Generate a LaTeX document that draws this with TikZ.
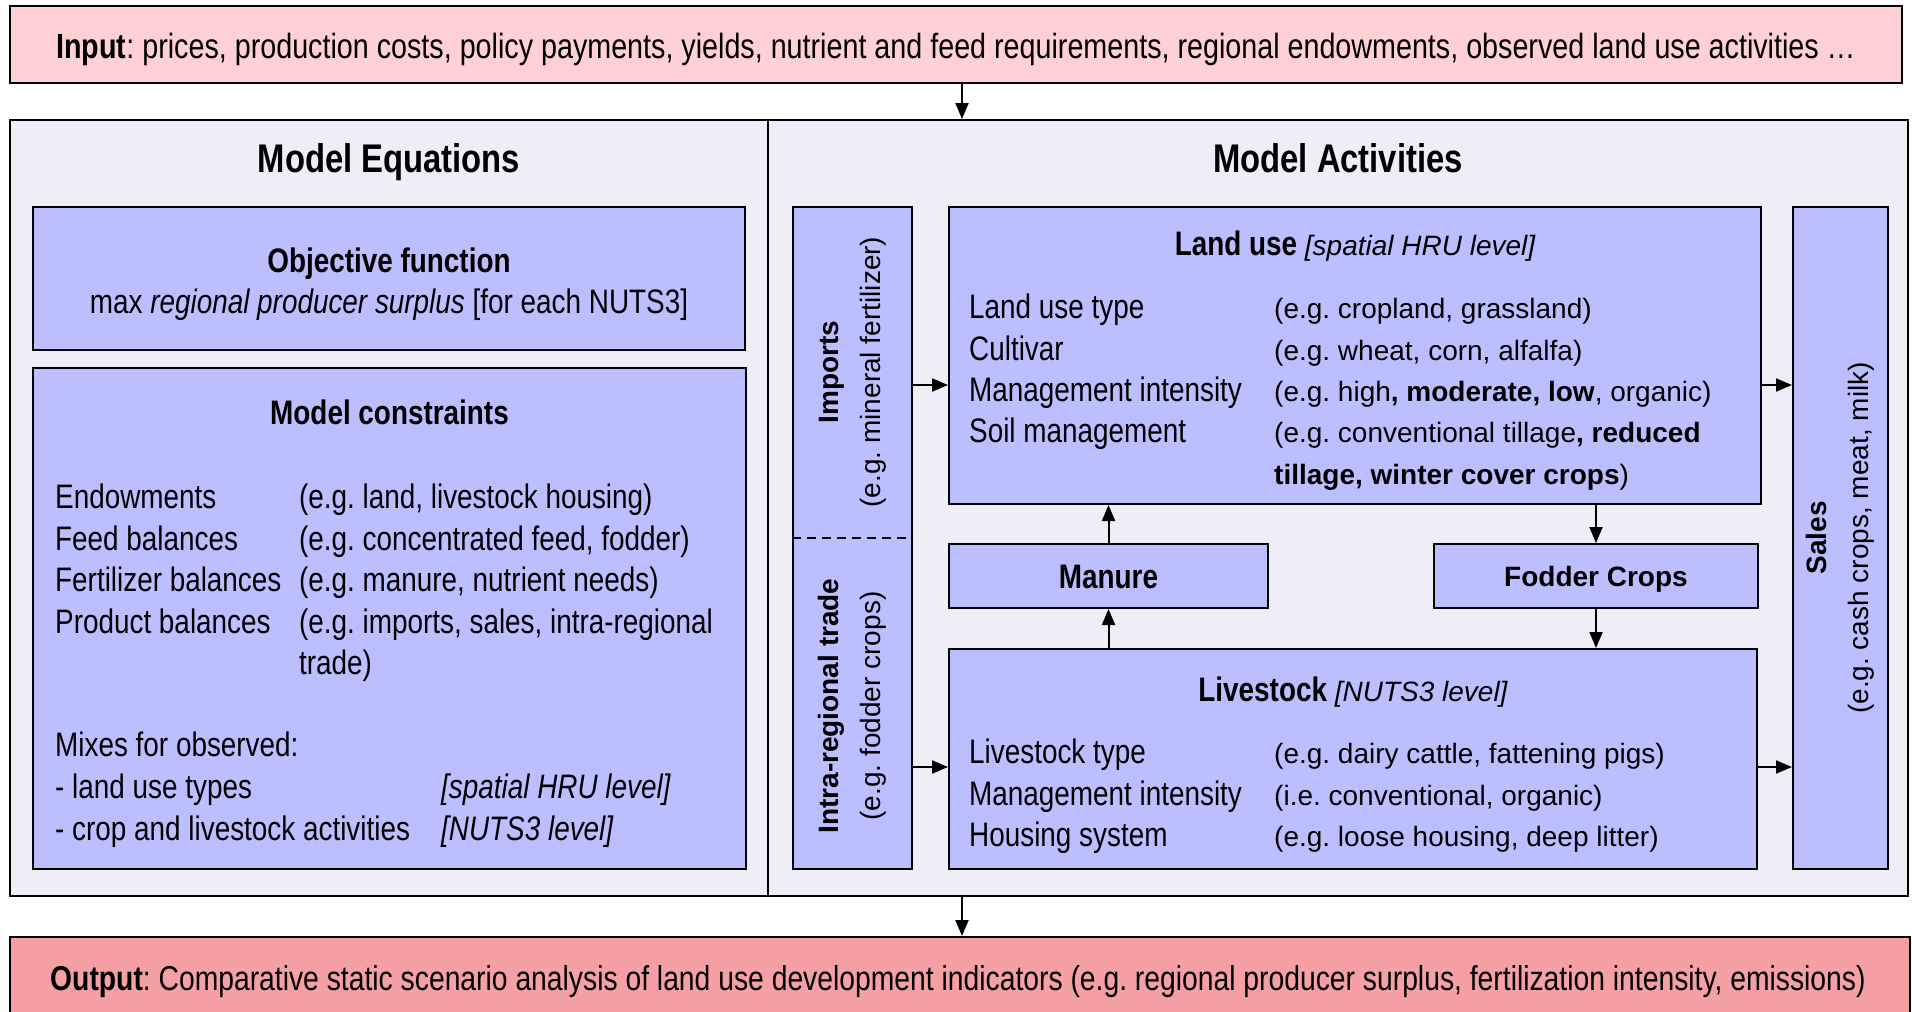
\documentclass[tikz,border=0pt]{standalone}
\usepackage{fontspec}
\setmainfont{Liberation Sans}
\newfontfamily\nf[FakeStretch=0.82]{Liberation Sans}
\usetikzlibrary{arrows.meta}
\frenchspacing
\definecolor{boxblue}{RGB}{187,191,255}
\definecolor{inpink}{RGB}{255,208,212}
\definecolor{outpink}{RGB}{245,160,165}
\definecolor{panelbg}{RGB}{238,238,246}
\tikzset{
 bx/.style={draw=black, line width=2pt, fill=boxblue, inner sep=0pt},
 pane/.style={draw=black, line width=2pt, fill=panelbg, inner sep=0pt},
 arr/.style={-{Triangle[length=16pt,width=13pt]}, line width=2pt},
 nt/.style={font=\nf\fontsize{34}{41}\selectfont, inner sep=0pt, anchor=base west},
 rt/.style={font=\fontsize{28}{41}\selectfont, inner sep=0pt, anchor=base west},
 rot/.style={font=\fontsize{28}{42}\selectfont, inner sep=0pt, rotate=90, align=center},
}
\begin{document}
\begin{tikzpicture}[x=1pt,y=-1pt]
\useasboundingbox (0,0) rectangle (1912,1012);
% boxes
\node[draw=black, line width=2pt, fill=inpink, minimum width=1892pt, minimum height=77pt, inner sep=0pt] (input) at (956,44.5) {};
\node[nt, font=\nf\fontsize{35}{41}\selectfont, anchor=base] (inputtxt) at (956,58) {\bfseries Input\mdseries: prices, production costs, policy payments, yields, nutrient and feed requirements, regional endowments, observed land use activities …};
\node[pane, minimum width=758pt, minimum height=776pt] (leftpane) at (389,508) {};
\node[pane, minimum width=1140pt, minimum height=776pt] (rightpane) at (1338,508) {};
\node[draw=black, line width=2pt, fill=outpink, minimum width=1900pt, minimum height=77pt, inner sep=0pt] (output) at (960,975.5) {};
\node[nt, font=\nf\fontsize{34.5}{41}\selectfont, anchor=base] (outputtxt) at (958,990) {\bfseries Output\mdseries: Comparative static scenario analysis of land use development indicators (e.g. regional producer surplus, fertilization intensity, emissions)};

\node[font=\nf\fontsize{40}{48}\selectfont\bfseries, inner sep=0pt, anchor=base] (eqtitle) at (389,172) {Model Equations};
\node[font=\nf\fontsize{40}{48}\selectfont\bfseries, inner sep=0pt, anchor=base] (actitle) at (1338,172) {Model Activities};

\node[bx, minimum width=712pt, minimum height=143pt] (obj) at (389,278.5) {};
\node[nt, anchor=base] (objt1) at (389,272) {\bfseries Objective function};
\node[nt, anchor=base] (objt2) at (389,313) {max \itshape regional producer surplus \upshape [for each NUTS3]};

\node[bx, minimum width=713pt, minimum height=501pt] (cons) at (389.5,618.5) {};
\node[nt, anchor=base] (const) at (389.5,424) {\bfseries Model constraints};
\node[nt] (c1a) at (55,508) {Endowments};
\node[nt] (c1b) at (299,508) {(e.g. land, livestock housing)};
\node[nt] (c2a) at (55,550) {Feed balances};
\node[nt] (c2b) at (299,550) {(e.g. concentrated feed, fodder)};
\node[nt] (c3a) at (55,591) {Fertilizer balances};
\node[nt] (c3b) at (299,591) {(e.g. manure, nutrient needs)};
\node[nt] (c4a) at (55,633) {Product balances};
\node[nt] (c4b) at (299,633) {(e.g. imports, sales, intra-regional};
\node[nt] (c4c) at (299,674) {trade)};
\node[nt] (c5) at (55,756) {Mixes for observed:};
\node[nt] (c6a) at (55,798) {- land use types};
\node[nt] (c6b) at (441,798) {\itshape [spatial HRU level]};
\node[nt] (c7a) at (55,840) {- crop and livestock activities};
\node[nt] (c7b) at (441,840) {\itshape [NUTS3 level]};

\node[bx, minimum width=119pt, minimum height=662pt] (imp) at (852.5,538) {};
\coordinate (y538) at (0,538);
\draw[line width=1.5pt, dash pattern=on 9pt off 6pt] (imp.west |- y538) -- (imp.east |- y538);
\node[rot] (imptxt) at (852.5,372) {\bfseries Imports\\(e.g. mineral fertilizer)};
\node[rot] (intratxt) at (852.5,706) {\bfseries Intra-regional trade\\(e.g. fodder crops)};

\node[bx, minimum width=812pt, minimum height=297pt] (land) at (1355,355.5) {};
\node[inner sep=0pt, anchor=base] (landt) at (1355,255) {{\nf\fontsize{34}{41}\selectfont\bfseries Land use}{\fontsize{28}{34}\selectfont\ \itshape [spatial HRU level]}};
\node[nt] (l1a) at (969,318) {Land use type};
\node[rt] (l1b) at (1274,318) {(e.g. cropland, grassland)};
\node[nt] (l2a) at (969,360) {Cultivar};
\node[rt] (l2b) at (1274,360) {(e.g. wheat, corn, alfalfa)};
\node[nt] (l3a) at (969,401) {Management intensity};
\node[rt] (l3b) at (1274,401) {(e.g. high\textbf{, moderate, low}, organic)};
\node[nt] (l4a) at (969,442) {Soil management};
\node[rt] (l4b) at (1274,442) {(e.g. conventional tillage\textbf{, reduced}};
\node[rt] (l4c) at (1274,484) {\textbf{tillage, winter cover crops})};

\node[bx, minimum width=319pt, minimum height=64pt] (manure) at (1108.5,576) {};
\node[nt, anchor=base] (manuret) at (1108.5,588) {\bfseries Manure};
\node[bx, minimum width=324pt, minimum height=64pt] (fodder) at (1596,576) {};
\node[rt, anchor=base] (foddert) at (1596,586) {\bfseries Fodder Crops};

\node[bx, minimum width=808pt, minimum height=220pt] (live) at (1353,759) {};
\node[inner sep=0pt, anchor=base] (livet) at (1353,701) {{\nf\fontsize{34}{41}\selectfont\bfseries Livestock}{\fontsize{28}{34}\selectfont\ \itshape [NUTS3 level]}};
\node[nt] (v1a) at (969,763) {Livestock type};
\node[rt] (v1b) at (1274,763) {(e.g. dairy cattle, fattening pigs)};
\node[nt] (v2a) at (969,805) {Management intensity};
\node[rt] (v2b) at (1274,805) {(i.e. conventional, organic)};
\node[nt] (v3a) at (969,846) {Housing system};
\node[rt] (v3b) at (1274,846) {(e.g. loose housing, deep litter)};

\node[bx, minimum width=95pt, minimum height=662pt] (sales) at (1840.5,538) {};
\node[rot] (salest) at (1840.5,538) {\bfseries Sales\\(e.g. cash crops, meat, milk)};

% connectors
\coordinate (x962) at (962,0);
\coordinate (y385) at (0,385);
\coordinate (y767) at (0,767);
\draw[arr] (input.south -| x962) -- (rightpane.north -| x962);
\draw[arr] (rightpane.south -| x962) -- (output.north -| x962);
\draw[arr] (imp.east |- y385) -- (land.west |- y385);
\draw[arr] (land.east |- y385) -- (sales.west |- y385);
\draw[arr] (imp.east |- y767) -- (live.west |- y767);
\draw[arr] (live.east |- y767) -- (sales.west |- y767);
\draw[arr] (manure.north) -- (manure.north |- land.south);
\draw[arr] (live.north -| manure.south) -- (manure.south);
\draw[arr] (fodder.north |- land.south) -- (fodder.north);
\draw[arr] (fodder.south) -- (fodder.south |- live.north);
\end{tikzpicture}
\end{document}
